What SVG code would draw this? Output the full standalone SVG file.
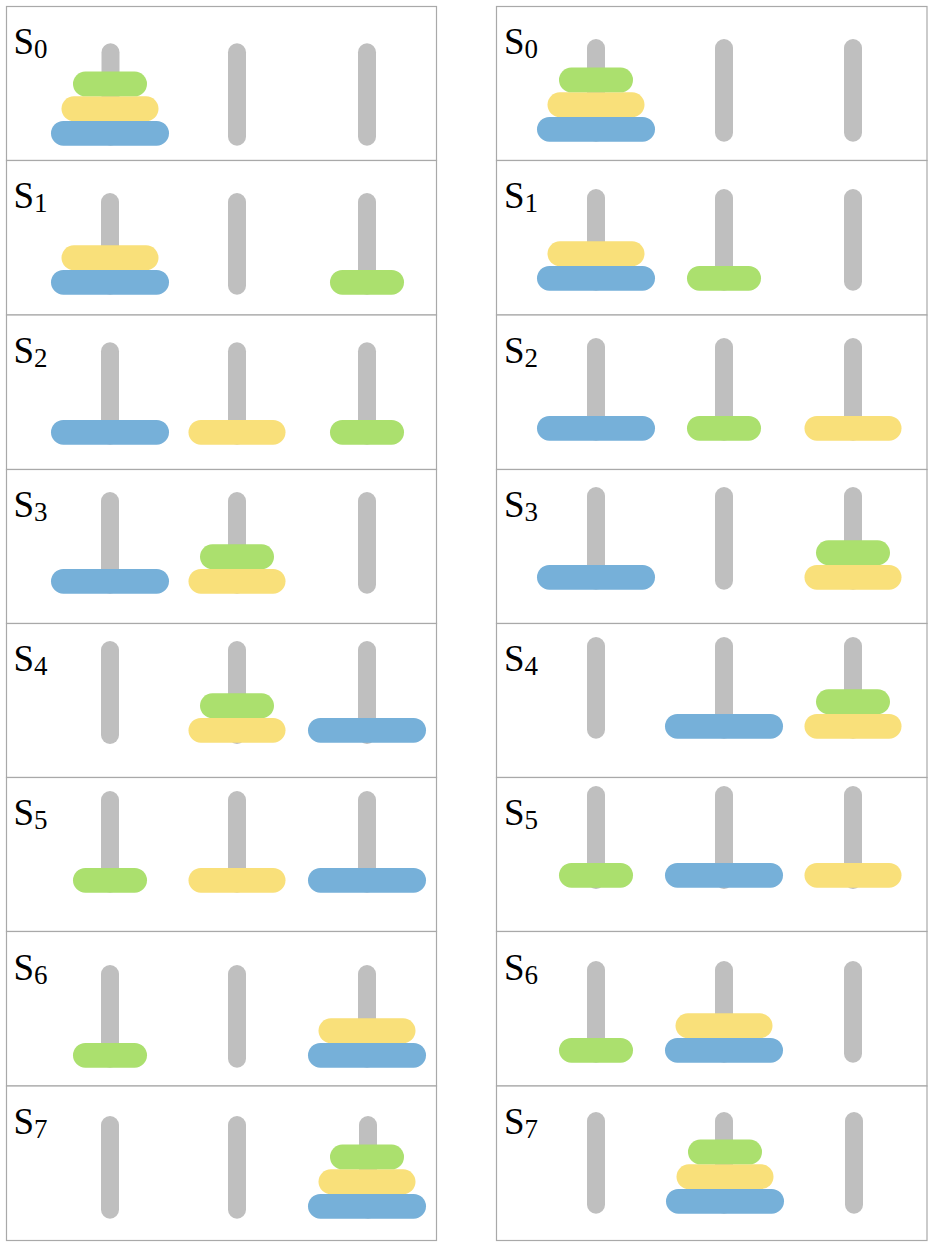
<svg xmlns="http://www.w3.org/2000/svg" width="932" height="1246" viewBox="0 0 932 1246">
<style>
.bg{fill:#ffffff}
.cell{fill:#ffffff;stroke:#a9a9a9;stroke-width:1.2}
.peg{fill:#bfbfbf}
.b{fill:#76b0d9}
.y{fill:#f9e07a}
.g{fill:#abe06e}
.lbl{font-family:"Liberation Serif","Times New Roman",serif;font-size:37px;fill:#000}
.sub{font-size:27px}
</style>
<defs>
<rect id="pg" width="18" height="102" rx="9"/>
</defs>
<rect class="bg" x="0" y="0" width="932" height="1246"/>

<!-- Left column -->
<g id="L0">
<rect class="cell" x="6.5" y="6.5" width="430" height="154"/>
<text class="lbl" x="13.5" y="54">S<tspan class="sub" dy="4">0</tspan></text>
<rect class="peg" x="101.5" y="43.3" width="18" height="102.4" rx="9"/>
<rect class="peg" x="228" y="43.3" width="18" height="102.4" rx="9"/>
<rect class="peg" x="358" y="43.3" width="18" height="102.4" rx="9"/>
<rect class="b" x="51" y="121" width="118" height="24.7" rx="12.35"/>
<rect class="y" x="61.5" y="96.3" width="97" height="24.7" rx="12.35"/>
<rect class="g" x="73" y="71.6" width="74" height="24.7" rx="12.35"/>
</g>
<g id="L1">
<rect class="cell" x="6.5" y="160.5" width="430" height="154.5"/>
<text class="lbl" x="13.5" y="208">S<tspan class="sub" dy="4">1</tspan></text>
<rect class="peg" x="101" y="193" width="18" height="101.7" rx="9"/>
<rect class="peg" x="228" y="193" width="18" height="101.7" rx="9"/>
<rect class="peg" x="358" y="193" width="18" height="101.7" rx="9"/>
<rect class="b" x="51" y="270" width="118" height="24.7" rx="12.35"/>
<rect class="y" x="61.5" y="245.3" width="97" height="24.7" rx="12.35"/>
<rect class="g" x="330" y="270" width="74" height="24.7" rx="12.35"/>
</g>
<g id="L2">
<rect class="cell" x="6.5" y="315" width="430" height="154.5"/>
<text class="lbl" x="13.5" y="363">S<tspan class="sub" dy="4">2</tspan></text>
<rect class="peg" x="101" y="342.3" width="18" height="102.4" rx="9"/>
<rect class="peg" x="228" y="342.3" width="18" height="102.4" rx="9"/>
<rect class="peg" x="358" y="342.3" width="18" height="102.4" rx="9"/>
<rect class="b" x="51" y="420" width="118" height="24.7" rx="12.35"/>
<rect class="y" x="188.5" y="420" width="97" height="24.7" rx="12.35"/>
<rect class="g" x="330" y="420" width="74" height="24.7" rx="12.35"/>
</g>
<g id="L3">
<rect class="cell" x="6.5" y="469.5" width="430" height="154"/>
<text class="lbl" x="13.5" y="517">S<tspan class="sub" dy="4">3</tspan></text>
<rect class="peg" x="101" y="492" width="18" height="101.7" rx="9"/>
<rect class="peg" x="228" y="492" width="18" height="101.7" rx="9"/>
<rect class="peg" x="358" y="492" width="18" height="101.7" rx="9"/>
<rect class="b" x="51" y="569" width="118" height="24.7" rx="12.35"/>
<rect class="y" x="188.5" y="569" width="97" height="24.7" rx="12.35"/>
<rect class="g" x="200" y="544.3" width="74" height="24.7" rx="12.35"/>
</g>
<g id="L4">
<rect class="cell" x="6.5" y="623.5" width="430" height="154"/>
<text class="lbl" x="13.5" y="671">S<tspan class="sub" dy="4">4</tspan></text>
<rect class="peg" x="101" y="641" width="18" height="103" rx="9"/>
<rect class="peg" x="228" y="641" width="18" height="103" rx="9"/>
<rect class="peg" x="358" y="641" width="18" height="103" rx="9"/>
<rect class="y" x="188.5" y="718" width="97" height="24.7" rx="12.35"/>
<rect class="g" x="200" y="693.3" width="74" height="24.7" rx="12.35"/>
<rect class="b" x="308" y="718" width="118" height="24.7" rx="12.35"/>
</g>
<g id="L5">
<rect class="cell" x="6.5" y="777.5" width="430" height="154"/>
<text class="lbl" x="13.5" y="825">S<tspan class="sub" dy="4">5</tspan></text>
<rect class="peg" x="101" y="791" width="18" height="101.7" rx="9"/>
<rect class="peg" x="228" y="791" width="18" height="101.7" rx="9"/>
<rect class="peg" x="358" y="791" width="18" height="101.7" rx="9"/>
<rect class="g" x="73" y="868" width="74" height="24.7" rx="12.35"/>
<rect class="y" x="188.5" y="868" width="97" height="24.7" rx="12.35"/>
<rect class="b" x="308" y="868" width="118" height="24.7" rx="12.35"/>
</g>
<g id="L6">
<rect class="cell" x="6.5" y="931.5" width="430" height="154.5"/>
<text class="lbl" x="13.5" y="980">S<tspan class="sub" dy="4">6</tspan></text>
<rect class="peg" x="101" y="965" width="18" height="102.7" rx="9"/>
<rect class="peg" x="228" y="965" width="18" height="102.7" rx="9"/>
<rect class="peg" x="358" y="965" width="18" height="102.7" rx="9"/>
<rect class="g" x="73" y="1043" width="74" height="24.7" rx="12.35"/>
<rect class="b" x="308" y="1043" width="118" height="24.7" rx="12.35"/>
<rect class="y" x="318.5" y="1018.3" width="97" height="24.7" rx="12.35"/>
</g>
<g id="L7">
<rect class="cell" x="6.5" y="1086" width="430" height="154.5"/>
<text class="lbl" x="13.5" y="1134">S<tspan class="sub" dy="4">7</tspan></text>
<rect class="peg" x="101" y="1116" width="18" height="102.7" rx="9"/>
<rect class="peg" x="228" y="1116" width="18" height="102.7" rx="9"/>
<rect class="peg" x="359" y="1116" width="18" height="102.7" rx="9"/>
<rect class="b" x="308" y="1194" width="118" height="24.7" rx="12.35"/>
<rect class="y" x="318.5" y="1169.3" width="97" height="24.7" rx="12.35"/>
<rect class="g" x="330" y="1144.6" width="74" height="24.7" rx="12.35"/>
</g>

<!-- Right column -->
<g id="R0">
<rect class="cell" x="496.5" y="6.5" width="430.5" height="154"/>
<text class="lbl" x="504" y="54">S<tspan class="sub" dy="4">0</tspan></text>
<rect class="peg" x="587" y="39" width="18" height="102.7" rx="9"/>
<rect class="peg" x="715" y="39" width="18" height="102.7" rx="9"/>
<rect class="peg" x="844" y="39" width="18" height="102.7" rx="9"/>
<rect class="b" x="537" y="117" width="118" height="24.7" rx="12.35"/>
<rect class="y" x="547.5" y="92.3" width="97" height="24.7" rx="12.35"/>
<rect class="g" x="559" y="67.6" width="74" height="24.7" rx="12.35"/>
</g>
<g id="R1">
<rect class="cell" x="496.5" y="160.5" width="430.5" height="154.5"/>
<text class="lbl" x="504" y="208">S<tspan class="sub" dy="4">1</tspan></text>
<rect class="peg" x="587" y="189" width="18" height="101.7" rx="9"/>
<rect class="peg" x="715" y="189" width="18" height="101.7" rx="9"/>
<rect class="peg" x="844" y="189" width="18" height="101.7" rx="9"/>
<rect class="b" x="537" y="266" width="118" height="24.7" rx="12.35"/>
<rect class="y" x="547.5" y="241.3" width="97" height="24.7" rx="12.35"/>
<rect class="g" x="687" y="266" width="74" height="24.7" rx="12.35"/>
</g>
<g id="R2">
<rect class="cell" x="496.5" y="315" width="430.5" height="154.5"/>
<text class="lbl" x="504" y="363">S<tspan class="sub" dy="4">2</tspan></text>
<rect class="peg" x="587" y="338" width="18" height="102.7" rx="9"/>
<rect class="peg" x="715" y="338" width="18" height="102.7" rx="9"/>
<rect class="peg" x="844" y="338" width="18" height="102.7" rx="9"/>
<rect class="b" x="537" y="416" width="118" height="24.7" rx="12.35"/>
<rect class="g" x="687" y="416" width="74" height="24.7" rx="12.35"/>
<rect class="y" x="804.5" y="416" width="97" height="24.7" rx="12.35"/>
</g>
<g id="R3">
<rect class="cell" x="496.5" y="469.5" width="430.5" height="154"/>
<text class="lbl" x="504" y="517">S<tspan class="sub" dy="4">3</tspan></text>
<rect class="peg" x="587" y="487" width="18" height="102.7" rx="9"/>
<rect class="peg" x="715" y="487" width="18" height="102.7" rx="9"/>
<rect class="peg" x="844" y="487" width="18" height="102.7" rx="9"/>
<rect class="b" x="537" y="565" width="118" height="24.7" rx="12.35"/>
<rect class="y" x="804.5" y="565" width="97" height="24.7" rx="12.35"/>
<rect class="g" x="816" y="540.3" width="74" height="24.7" rx="12.35"/>
</g>
<g id="R4">
<rect class="cell" x="496.5" y="623.5" width="430.5" height="154"/>
<text class="lbl" x="504" y="671">S<tspan class="sub" dy="4">4</tspan></text>
<rect class="peg" x="587" y="637" width="18" height="101.7" rx="9"/>
<rect class="peg" x="715" y="637" width="18" height="101.7" rx="9"/>
<rect class="peg" x="844" y="637" width="18" height="101.7" rx="9"/>
<rect class="b" x="665" y="714" width="118" height="24.7" rx="12.35"/>
<rect class="y" x="804.5" y="714" width="97" height="24.7" rx="12.35"/>
<rect class="g" x="816" y="689.3" width="74" height="24.7" rx="12.35"/>
</g>
<g id="R5">
<rect class="cell" x="496.5" y="777.5" width="430.5" height="154"/>
<text class="lbl" x="504" y="825">S<tspan class="sub" dy="4">5</tspan></text>
<rect class="peg" x="587" y="786" width="18" height="103" rx="9"/>
<rect class="peg" x="715" y="786" width="18" height="103" rx="9"/>
<rect class="peg" x="844" y="786" width="18" height="103" rx="9"/>
<rect class="g" x="559" y="863" width="74" height="24.7" rx="12.35"/>
<rect class="b" x="665" y="863" width="118" height="24.7" rx="12.35"/>
<rect class="y" x="804.5" y="863" width="97" height="24.7" rx="12.35"/>
</g>
<g id="R6">
<rect class="cell" x="496.5" y="931.5" width="430.5" height="154.5"/>
<text class="lbl" x="504" y="980">S<tspan class="sub" dy="4">6</tspan></text>
<rect class="peg" x="587" y="961" width="18" height="101.7" rx="9"/>
<rect class="peg" x="715" y="961" width="18" height="101.7" rx="9"/>
<rect class="peg" x="844" y="961" width="18" height="101.7" rx="9"/>
<rect class="g" x="559" y="1038" width="74" height="24.7" rx="12.35"/>
<rect class="b" x="665" y="1038" width="118" height="24.7" rx="12.35"/>
<rect class="y" x="675.5" y="1013.3" width="97" height="24.7" rx="12.35"/>
</g>
<g id="R7">
<rect class="cell" x="496.5" y="1086" width="430.5" height="154.5"/>
<text class="lbl" x="504" y="1134">S<tspan class="sub" dy="4">7</tspan></text>
<rect class="peg" x="587" y="1112" width="18" height="101.7" rx="9"/>
<rect class="peg" x="715" y="1112" width="18" height="101.7" rx="9"/>
<rect class="peg" x="845" y="1112" width="18" height="101.7" rx="9"/>
<rect class="b" x="666" y="1189" width="118" height="24.7" rx="12.35"/>
<rect class="y" x="676.5" y="1164.3" width="97" height="24.7" rx="12.35"/>
<rect class="g" x="688" y="1139.6" width="74" height="24.7" rx="12.35"/>
</g>

<g id="connectors"></g>
</svg>
